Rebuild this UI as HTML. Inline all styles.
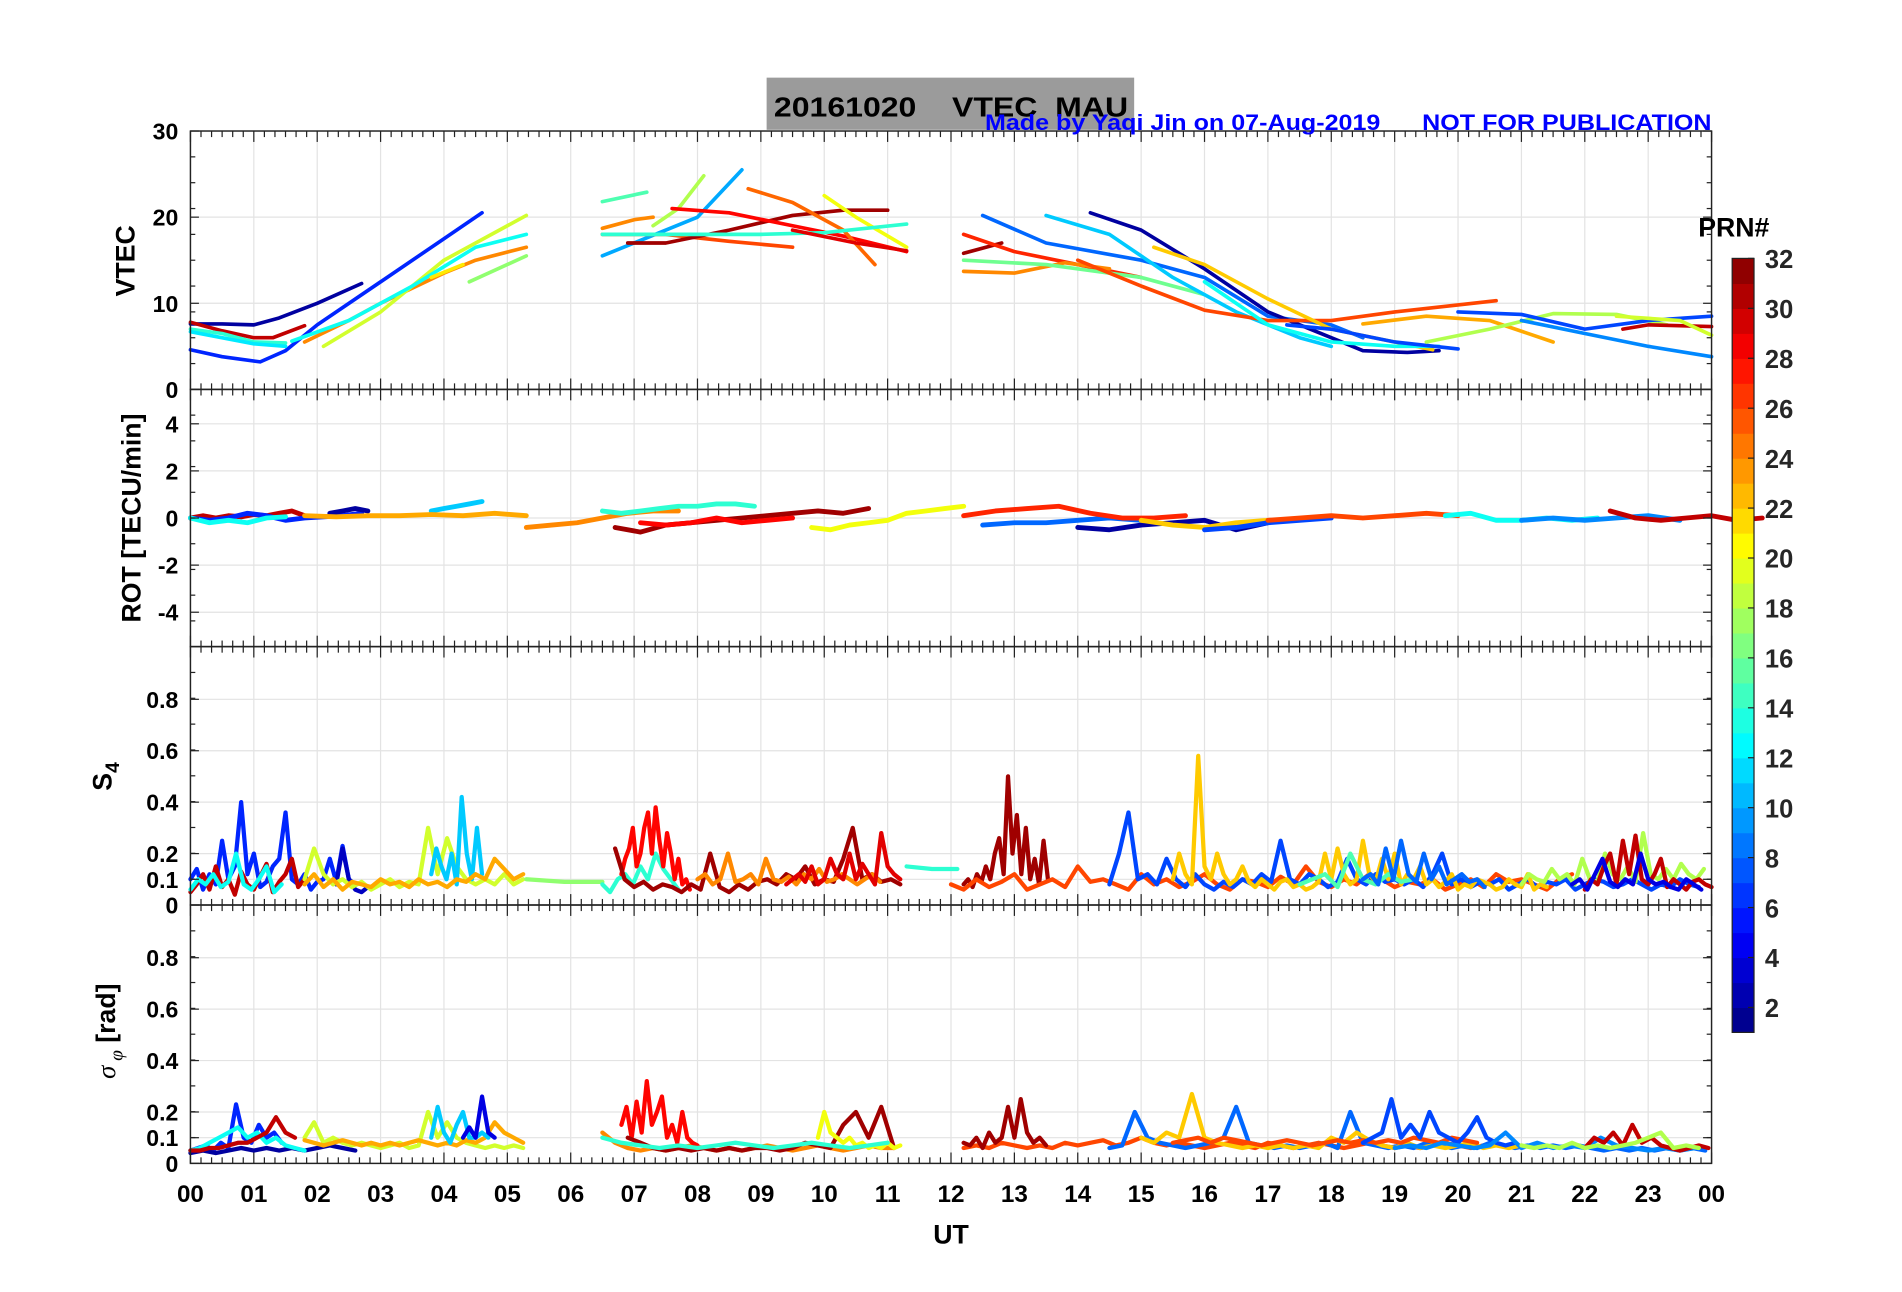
<!DOCTYPE html>
<html><head><meta charset="utf-8"><style>
html,body{margin:0;padding:0;background:#fff}
svg{display:block}
text{font-family:"Liberation Sans",Arial,sans-serif;font-weight:bold}
</style></head><body>
<svg id="chart" xmlns="http://www.w3.org/2000/svg" width="1902" height="1292" viewBox="0 0 1568 1065" preserveAspectRatio="none">
<rect x="0" y="0" width="1568" height="1065" fill="#fff"/>
<g id="grid"></g>
<g id="series"></g>
<g id="axes"></g>
<rect x="632" y="64" width="303" height="43" fill="#9b9b9b"/>
<text x="638" y="96" font-size="23" fill="#000" xml:space="preserve" textLength="292" lengthAdjust="spacingAndGlyphs">20161020    VTEC  MAU</text>
<text x="812" y="107" font-size="18" fill="#0000ff" xml:space="preserve" textLength="599" lengthAdjust="spacingAndGlyphs">Made by Yaqi Jin on 07-Aug-2019      NOT FOR PUBLICATION</text>
<text x="1400" y="195" font-size="22" fill="#000">PRN#</text>
<g id="cbar"></g>
<text transform="translate(111,215) rotate(-90)" text-anchor="middle" font-size="22">VTEC</text>
<text transform="translate(116,427) rotate(-90)" text-anchor="middle" font-size="22">ROT [TECU/min]</text>
<text transform="translate(92,640) rotate(-90)" text-anchor="middle" font-size="22">S<tspan font-size="16" dy="6">4</tspan></text>
<text transform="translate(95,850) rotate(-90)" text-anchor="middle" font-size="22"><tspan font-style="italic" font-weight="normal" font-family="Liberation Serif">σ</tspan><tspan font-style="italic" font-weight="normal" font-family="Liberation Serif" font-size="16" dy="6"> φ</tspan><tspan dy="-6"> [rad]</tspan></text>
<text x="784" y="1025" text-anchor="middle" font-size="22">UT</text>
</svg>
<script>
const NS="http://www.w3.org/2000/svg";
// x tick labels
const xTickLabels=["00","01","02","03","04","05","06","07","08","09","10","11","12","13","14","15","16","17","18","19","20","21","22","23","00"];
const vtecTicks=[0,10,20,30];
const rotTicks=[-4,-2,0,2,4];
const s4Ticks=[0,0.1,0.2,0.4,0.6,0.8];
const sigTicks=[0,0.1,0.2,0.4,0.6,0.8];
const cbarTicks=[2,4,6,8,10,12,14,16,18,20,22,24,26,28,30,32];

// VTEC passes: prn, times (h), values (TECU)
const vtecPrn=[2,6,30,14,12,24,19,13,17,21,15,18,10,24,26,31,28,25,20,14,29,31,27,24,16,8,11,2,26,22,13,7,23,18,7,9,30,19];
const vtecT=[
[0,0.5,1,1.4,2,2.7],[0,0.5,1.1,1.5,2,3,4,4.6],[0,0.5,1,1.3,1.8],[0,0.5,1,1.5],[0,1,1.5],
[1.8,2.5,3,4,4.5,5.3],[2.1,3,4,5.3],[1.6,2.5,3.5,4.5,5.3],[4.4,5.3],[3.8,4.3],
[6.5,7.2],[7.3,7.7,8.1],[6.5,7,8,8.7],[6.5,7,7.3],[6.5,7.5,8.5,9.5],[6.9,7.5,8.5,9.5,10.3,11],
[7.6,8.5,9.5,10.3,11.3],[8.8,9.5,10.3,10.8],[10,10.5,11.3],[6.5,8,9,10,11.3],[9.5,10.5,11.3],
[12.2,12.8],[12.2,13,14,15],[12.2,13,13.8,14.5],[12.2,13.5,15,16],[12.5,13.5,15,16,17,18,18.5],
[13.5,14.5,15.5,16.5,17.5,18],[14.2,15,16,17,18,18.5,19.2,19.7],[14,15,16,17,18,19,20,20.6],
[15.2,16,17,18,19,19.6],[16,17,18,19,19.7],[17.3,18,19,20],[18.5,19.5,20.5,21.5],
[19.5,20.5,21.5,22.5,23.3],[20,21,22,23,24],[21,22,23,24],[22.6,23,24],[22.5,23.5,24]];
const vtecV=[
[7.6,7.6,7.5,8.3,10,12.3],[4.6,3.8,3.2,4.5,7.5,12.5,17.5,20.5],[7.8,6.8,6,6,7.4],[7,6.5,5.5,5.4],[6.7,5.3,5],
[5.5,8,10,13.5,15,16.5],[5,9,15,20.2],[5.6,8,12,16.5,18],[12.5,15.5],[13,14.5],
[21.8,22.9],[19,21,24.8],[15.5,17,20,25.5],[18.7,19.7,20],[18,18,17.2,16.5],[17,17,18.5,20.2,20.8,20.8],
[21,20.5,19,17.8,16],[23.3,21.7,18.5,14.5],[22.5,20,16.5],[18,18,18,18.2,19.2],[18.5,17,16.1],
[15.8,17],[18,16,14.5,13],[13.7,13.5,14.7,14],[15,14.5,13,11],[20.2,17,15,13,8.5,7.5,6],
[20.2,18,13,9,6,5],[20.5,18.5,14,9,6,4.5,4.3,4.5],[15,12,9.2,8,8,9,9.8,10.3],
[16.5,14.5,10.5,7,5.5,4.6],[12.5,7.5,5.5,5,5],[7.5,7,5.5,4.7],[7.6,8.5,8,5.5],
[5.5,7,8.8,8.7,7.5],[9,8.7,7,8,8.5],[8,6.5,5,3.8],[7,7.5,7.3],[8.5,8,6.3]];

// ROT passes: prn, start hour, step hour, values
const rotPrn=[30,6,13,2,11,23,24,14,31,28,20,8,27,2,22,7,26,13,9,30];
const rotT0=[0,0,0,2.2,3.8,1.8,5.3,6.5,6.7,7.1,9.8,12.5,12.2,14,15,16,17,19.8,21,22.4];
const rotDt=[0.2,0.3,0.3,0.2,0.2,0.5,0.4,0.3,0.4,0.4,0.3,0.5,0.5,0.5,0.5,0.5,0.5,0.4,0.5,0.4];
const rotV=[
[0,0.1,0,0.1,0.05,0.15,0.1,0.2,0.3,0.1],[0,-0.1,0,0.2,0.1,-0.1,0,0.05,0.1,0.2],[0,-0.2,-0.1,-0.2,0,0.05],
[0.2,0.3,0.4,0.3],[0.3,0.4,0.5,0.6,0.7],[0.1,0.05,0.1,0.1,0.15,0.1,0.2,0.1],
[-0.4,-0.3,-0.2,0,0.2,0.3,0.3],[0.3,0.2,0.3,0.4,0.5,0.5,0.6,0.6,0.5],
[-0.4,-0.6,-0.3,-0.2,-0.1,0,0.1,0.2,0.3,0.2,0.4],[-0.2,-0.3,-0.2,0,-0.2,-0.1,0],
[-0.4,-0.5,-0.3,-0.2,-0.1,0.2,0.3,0.4,0.5],[-0.3,-0.2,-0.2,-0.1,0,-0.1],
[0.1,0.3,0.4,0.5,0.2,0,0,0.1],[-0.4,-0.5,-0.3,-0.2,-0.1,-0.5,-0.2],[-0.1,-0.3,-0.4,-0.2,-0.1],
[-0.5,-0.4,-0.2,-0.1,0],[-0.1,0,0.1,0,0.1,0.2,0.1],[0.1,0.2,-0.1,-0.1,0,-0.1,0],
[-0.1,0,-0.1,0,0.1,-0.1],[0.3,0,-0.1,0,0.1,-0.1,0]];

// S4 segments: prn, start hour, step hour, values
const s4Prn=[6,30,13,3,19,11,23,17,14,28,31,24,29,14,31,26,7,22,15,18,30,8,4];
const s4T0=[0,0,0,2.3,1.8,3.8,1.8,5.3,6.5,6.8,6.7,8,9.4,11.3,12.2,12,14.5,15.5,17.5,21,22,18.5,21.8];
const s4Dt=[0.1,0.1,0.12,0.1,0.15,0.08,0.15,0.6,0.12,0.06,0.15,0.12,0.1,0.4,0.07,0.2,0.15,0.1,0.2,0.12,0.1,0.12,0.12];
const s4V=[
[0.1,0.14,0.06,0.12,0.08,0.25,0.1,0.15,0.4,0.12,0.2,0.07,0.09,0.15,0.18,0.36,0.1,0.08,0.12,0.06,0.09,0.1,0.18,0.09,0.23,0.1,0.08],
[0.05,0.08,0.12,0.06,0.15,0.07,0.1,0.04,0.13,0.08,0.06,0.11,0.16,0.05,0.09,0.12,0.18,0.07,0.1],
[0.06,0.1,0.08,0.12,0.07,0.09,0.2,0.08,0.06,0.1,0.15,0.05,0.08],
[0.08,0.22,0.1,0.06,0.05,0.07],
[0.1,0.22,0.12,0.08,0.1,0.07,0.09,0.06,0.08,0.1,0.07,0.09,0.08,0.3,0.12,0.26,0.15,0.1,0.08,0.1,0.08,0.12,0.08,0.1],
[0.12,0.22,0.15,0.1,0.2,0.08,0.42,0.2,0.1,0.3,0.12],
[0.08,0.12,0.07,0.1,0.06,0.09,0.08,0.07,0.1,0.08,0.09,0.07,0.1,0.08,0.09,0.07,0.1,0.09,0.12,0.1,0.18,0.14,0.1,0.12],
[0.1,0.09,0.09],
[0.08,0.05,0.1,0.12,0.08,0.15,0.1,0.2,0.14,0.1,0.06],
[0.12,0.18,0.22,0.3,0.15,0.2,0.3,0.36,0.2,0.38,0.25,0.15,0.28,0.2,0.1,0.18,0.08,0.1,0.06],
[0.22,0.1,0.07,0.09,0.06,0.08,0.07,0.05,0.08,0.06,0.2,0.07,0.05,0.08,0.06,0.09,0.1,0.08,0.12,0.1,0.15,0.08,0.1,0.09,0.18,0.3,0.1,0.12,0.09,0.1,0.08],
[0.1,0.12,0.08,0.1,0.2,0.09,0.1,0.12,0.08,0.18,0.1,0.09,0.11,0.08,0.12,0.1,0.14,0.09,0.1,0.12,0.1,0.08,0.1,0.12,0.09],
[0.08,0.1,0.12,0.09,0.15,0.08,0.1,0.18,0.12,0.1,0.2,0.1,0.16,0.12,0.08,0.28,0.15,0.12,0.1],
[0.15,0.14,0.14],
[0.08,0.1,0.07,0.12,0.09,0.15,0.1,0.2,0.26,0.12,0.5,0.2,0.35,0.12,0.3,0.1,0.18,0.08,0.25,0.1],
[0.08,0.06,0.1,0.07,0.09,0.12,0.06,0.08,0.1,0.07,0.15,0.09,0.1,0.08,0.06,0.12,0.08,0.1,0.07,0.09,0.12,0.08,0.06,0.1,0.09,0.07,0.11,0.08,0.15,0.09,0.07,0.1,0.08,0.12,0.1,0.07,0.09,0.08,0.1,0.06,0.08,0.1,0.07,0.12,0.09,0.1,0.08,0.06,0.1,0.12],
[0.08,0.2,0.36,0.1,0.12,0.08,0.18,0.1,0.07,0.12,0.08,0.06,0.09,0.07,0.1,0.08,0.12,0.09,0.25,0.1,0.08,0.12,0.1,0.07,0.09,0.18,0.1,0.08,0.12,0.09,0.1,0.08,0.1,0.07,0.12,0.2,0.08,0.1,0.07,0.09,0.08,0.1,0.06,0.08,0.1,0.07,0.09,0.08,0.1,0.06,0.08,0.1,0.09,0.07,0.08,0.1,0.08,0.06,0.08,0.07,0.1,0.08,0.07],
[0.1,0.2,0.12,0.08,0.58,0.15,0.1,0.2,0.12,0.08,0.1,0.15,0.09,0.07,0.1,0.08,0.06,0.09,0.1,0.07,0.08,0.06,0.07,0.09,0.2,0.1,0.22,0.12,0.08,0.1,0.25,0.12,0.09,0.18,0.1,0.2,0.08,0.12,0.1,0.15,0.08,0.1,0.07,0.09,0.12,0.06,0.08,0.07,0.1,0.09,0.08,0.06,0.07,0.1,0.08,0.07,0.12,0.06,0.08,0.07],
[0.08,0.1,0.12,0.07,0.2,0.1,0.08,0.12,0.09,0.1],
[0.08,0.12,0.1,0.09,0.14,0.1,0.12,0.08,0.18,0.1,0.09,0.2,0.12,0.1,0.15,0.09,0.28,0.12,0.1,0.14,0.1,0.16,0.12,0.1,0.14],
[0.06,0.1,0.08,0.15,0.2,0.08,0.25,0.12,0.27,0.1,0.08,0.12,0.18,0.07,0.1,0.08,0.06,0.09,0.1,0.08,0.07],
[0.1,0.12,0.08,0.22,0.1,0.25,0.12,0.09,0.2,0.1,0.15,0.08,0.1,0.12,0.09,0.1,0.07],
[0.08,0.1,0.06,0.12,0.18,0.09,0.07,0.1,0.08,0.2,0.1,0.08,0.09,0.07,0.06,0.1,0.08,0.06]];

// sigma-phi segments: prn, start hour, step hour, values
const sigPrn=[6,2,13,30,19,23,11,4,24,28,31,20,14,26,31,8,22,26,7,9,30,18];
const sigT0=[0,0,0,0,1.8,1.8,3.8,4.3,6.5,6.8,6.9,9.9,6.5,12.2,12.2,14.5,15,15.5,18.5,19,22,21];
const sigDt=[0.12,0.2,0.15,0.15,0.15,0.15,0.1,0.1,0.2,0.08,0.2,0.1,0.3,0.2,0.1,0.2,0.2,0.2,0.15,0.25,0.15,0.2];
const sigV=[
[0.05,0.06,0.07,0.05,0.08,0.06,0.23,0.1,0.08,0.15,0.1,0.12,0.08],
[0.04,0.05,0.04,0.05,0.06,0.05,0.06,0.05,0.06,0.05,0.06,0.07,0.06,0.05],
[0.05,0.06,0.08,0.1,0.12,0.14,0.1,0.12,0.08,0.1,0.07,0.06,0.05],
[0.05,0.05,0.06,0.06,0.07,0.08,0.08,0.1,0.12,0.18,0.12,0.1],
[0.1,0.16,0.08,0.1,0.08,0.07,0.08,0.07,0.06,0.07,0.08,0.06,0.07,0.2,0.1,0.16,0.1,0.08,0.07,0.06,0.07,0.06,0.07,0.06],
[0.09,0.08,0.07,0.08,0.09,0.08,0.07,0.08,0.07,0.08,0.07,0.08,0.09,0.08,0.07,0.08,0.07,0.09,0.08,0.1,0.16,0.12,0.1,0.08],
[0.1,0.22,0.12,0.08,0.15,0.2,0.1,0.1,0.12,0.1],
[0.1,0.14,0.1,0.26,0.12,0.1],
[0.12,0.08,0.06,0.05,0.06,0.05,0.06,0.07,0.06,0.05,0.06,0.05,0.06,0.07,0.06,0.05,0.06,0.07,0.06,0.05,0.06,0.07,0.06,0.06],
[0.15,0.22,0.1,0.24,0.12,0.32,0.15,0.2,0.26,0.1,0.15,0.08,0.2,0.1,0.08,0.07],
[0.1,0.08,0.06,0.05,0.06,0.05,0.06,0.05,0.06,0.05,0.06,0.06,0.05,0.06,0.08,0.07,0.06,0.15,0.2,0.1,0.22,0.06],
[0.1,0.2,0.12,0.1,0.08,0.1,0.07,0.08,0.06,0.07,0.06,0.08,0.06,0.07],
[0.1,0.08,0.07,0.06,0.07,0.06,0.07,0.08,0.07,0.06,0.07,0.08,0.07,0.06,0.07,0.08],
[0.06,0.07,0.06,0.08,0.07,0.06,0.07,0.06,0.08,0.07,0.08,0.09,0.07,0.08,0.1,0.08,0.07,0.08,0.07,0.06,0.07,0.08,0.07,0.06,0.08,0.07,0.06,0.07,0.08,0.07,0.06,0.07,0.08,0.07,0.06,0.07,0.06,0.07,0.08,0.07,0.06,0.07],
[0.08,0.07,0.1,0.06,0.12,0.08,0.1,0.22,0.1,0.25,0.12,0.08,0.1,0.07],
[0.06,0.07,0.2,0.1,0.08,0.07,0.06,0.07,0.08,0.1,0.22,0.08,0.07,0.06,0.07,0.06,0.07,0.08,0.06,0.2,0.08,0.07,0.06,0.07,0.06,0.08,0.07,0.06,0.07,0.06,0.08,0.07,0.06,0.07,0.06,0.07,0.06,0.07,0.06,0.05,0.06,0.05,0.06,0.05,0.06,0.05,0.06,0.05],
[0.1,0.08,0.12,0.1,0.27,0.1,0.08,0.07,0.06,0.07,0.06,0.07,0.06,0.07,0.06,0.1,0.08,0.12,0.09,0.07,0.06,0.08,0.06,0.07,0.06,0.07,0.08,0.06,0.07,0.06,0.07],
[0.08,0.09,0.1,0.08,0.1,0.09,0.08,0.07,0.08,0.09,0.08,0.07,0.08,0.09,0.08,0.09,0.08,0.09,0.08,0.1,0.09,0.08,0.1,0.09,0.08],
[0.08,0.1,0.12,0.25,0.1,0.15,0.1,0.2,0.12,0.1,0.08,0.12,0.18,0.1,0.08,0.07,0.08],
[0.06,0.07,0.06,0.08,0.07,0.06,0.07,0.12,0.06,0.08,0.06,0.07,0.06,0.1,0.07,0.06,0.05,0.06,0.05,0.06],
[0.06,0.1,0.08,0.12,0.07,0.15,0.08,0.1,0.07,0.06,0.05,0.06,0.07,0.06],
[0.07,0.06,0.07,0.06,0.08,0.06,0.07,0.06,0.07,0.08,0.1,0.12,0.06,0.07,0.06]];

const X0=157,X1=1411,HOURS=24;
function xs(t){return X0+(X1-X0)*t/HOURS;}
const panels={
 vtec:{top:108,bot:321,min:0,max:30},
 rot:{top:321,bot:533,min:-5.46,max:5.46},
 s4:{top:533,bot:746,min:0,max:1.005},
 sig:{top:746,bot:959,min:0,max:1.005}
};
function ys(p,v){const P=panels[p];return P.bot-(v-P.min)/(P.max-P.min)*(P.bot-P.top);}
function jet(prn){
 const f=(prn-1)/31;
 const c=v=>Math.round(255*Math.max(0,Math.min(1,v)));
 return `rgb(${c(1.5-Math.abs(4*f-3))},${c(1.5-Math.abs(4*f-2))},${c(1.5-Math.abs(4*f-1))})`;
}
function mk(tag,attrs,parent){const e=document.createElementNS(NS,tag);for(const k in attrs)e.setAttribute(k,attrs[k]);parent.appendChild(e);return e;}
const G=document.getElementById('grid'),S=document.getElementById('series'),A=document.getElementById('axes'),CB=document.getElementById('cbar');

const panelTicks={vtec:vtecTicks,rot:rotTicks,s4:s4Ticks,sig:sigTicks};
for(const p in panels){
 const P=panels[p];
 for(let h=0;h<=HOURS;h++){
  const gl=mk('line',{x1:xs(h),x2:xs(h),y1:P.top,y2:P.bot,stroke:'#e3e3e3','stroke-width':1},G);
  
  
 }
 for(const v of panelTicks[p]){
  const y=ys(p,v);
  const gl=mk('line',{x1:X0,x2:X1,y1:y,y2:y,stroke:'#e3e3e3','stroke-width':1},G);
  
  
  const lab=mk('text',{x:147,y:y+7,'text-anchor':'end','font-size':19},A);
  lab.textContent=String(v);
  
  
  for(const xx of [X0,X1-7]){
   const tk=mk('line',{x1:xx,x2:xx+7,y1:y,y2:y,stroke:'#222','stroke-width':1},A);
   
   
  }
 }
 for(let i=0;i<=HOURS*6;i++){
  const len=i%6===0?9:5,x=xs(i/6);
  const t1=mk('line',{x1:x,x2:x,y1:P.top,y2:P.top+len,stroke:'#222','stroke-width':1},A);
  
  
  const t2=mk('line',{x1:x,x2:x,y1:P.bot,y2:P.bot-len,stroke:'#222','stroke-width':1},A);
  
  
 }
 const yr=(P.bot-P.top)/10;
 for(let k=1;k<10;k++){
  for(const xx of [X0,X1-4]){
   const mt=mk('line',{x1:xx,x2:xx+4,y1:P.top+k*yr,y2:P.top+k*yr,stroke:'#222','stroke-width':1},A);
   
   
  }
 }
 const box=mk('rect',{x:X0,y:P.top,width:X1-X0,height:P.bot-P.top,fill:'none',stroke:'#222','stroke-width':1.2},A);
 
 
}
xTickLabels.forEach((l,i)=>{
 const t=mk('text',{x:xs(i),y:991,'text-anchor':'middle','font-size':20},A);
 t.textContent=l;
 
 
});

function line(p,ts,vs,prn,w,name){
 const pts=ts.map((t,i)=>xs(t).toFixed(1)+','+ys(p,vs[i]).toFixed(1)).join(' ');
 const pl=mk('polyline',{points:pts,fill:'none',stroke:jet(prn),'stroke-width':w,'stroke-linejoin':'round','stroke-linecap':'round'},S);
 
 
}
vtecPrn.forEach((prn,i)=>line('vtec',vtecT[i],vtecV[i],prn,3,'vtec-pass-prn'+prn));
function stepSeries(p,prns,t0s,dts,vals,w,nm){
 prns.forEach((prn,i)=>{const ts=vals[i].map((_,k)=>t0s[i]+k*dts[i]);line(p,ts,vals[i],prn,w,nm+'-prn'+prn);});
}
stepSeries('rot',rotPrn,rotT0,rotDt,rotV,4,'rot-series');
stepSeries('s4',s4Prn,s4T0,s4Dt,s4V,3.5,'s4-series');
stepSeries('sig',sigPrn,sigT0,sigDt,sigV,3.5,'sigma-series');

const CBX=1428,CBW=18,CBT=213,CBB=851,PMIN=1,PMAX=32;
function cy(v){return CBB-(v-PMIN)/(PMAX-PMIN)*(CBB-CBT);}
for(let k=0;k<31;k++){
 const r=mk('rect',{x:CBX,y:cy(PMIN+k+1),width:CBW,height:cy(PMIN+k)-cy(PMIN+k+1)+0.5,fill:jet(PMIN+k+0.5)},CB);
 
 
}
const cbf=mk('rect',{x:CBX,y:CBT,width:CBW,height:CBB-CBT,fill:'none',stroke:'#222','stroke-width':1},CB);


cbarTicks.forEach(v=>{
 const tk=mk('line',{x1:CBX+CBW-5,x2:CBX+CBW,y1:cy(v),y2:cy(v),stroke:'#222','stroke-width':1},CB);
 
 
 const t=mk('text',{x:1455,y:cy(v)+8,'font-size':21,fill:'#262626'},CB);
 t.textContent=String(v);
 
 
});
</script>
</body></html>
